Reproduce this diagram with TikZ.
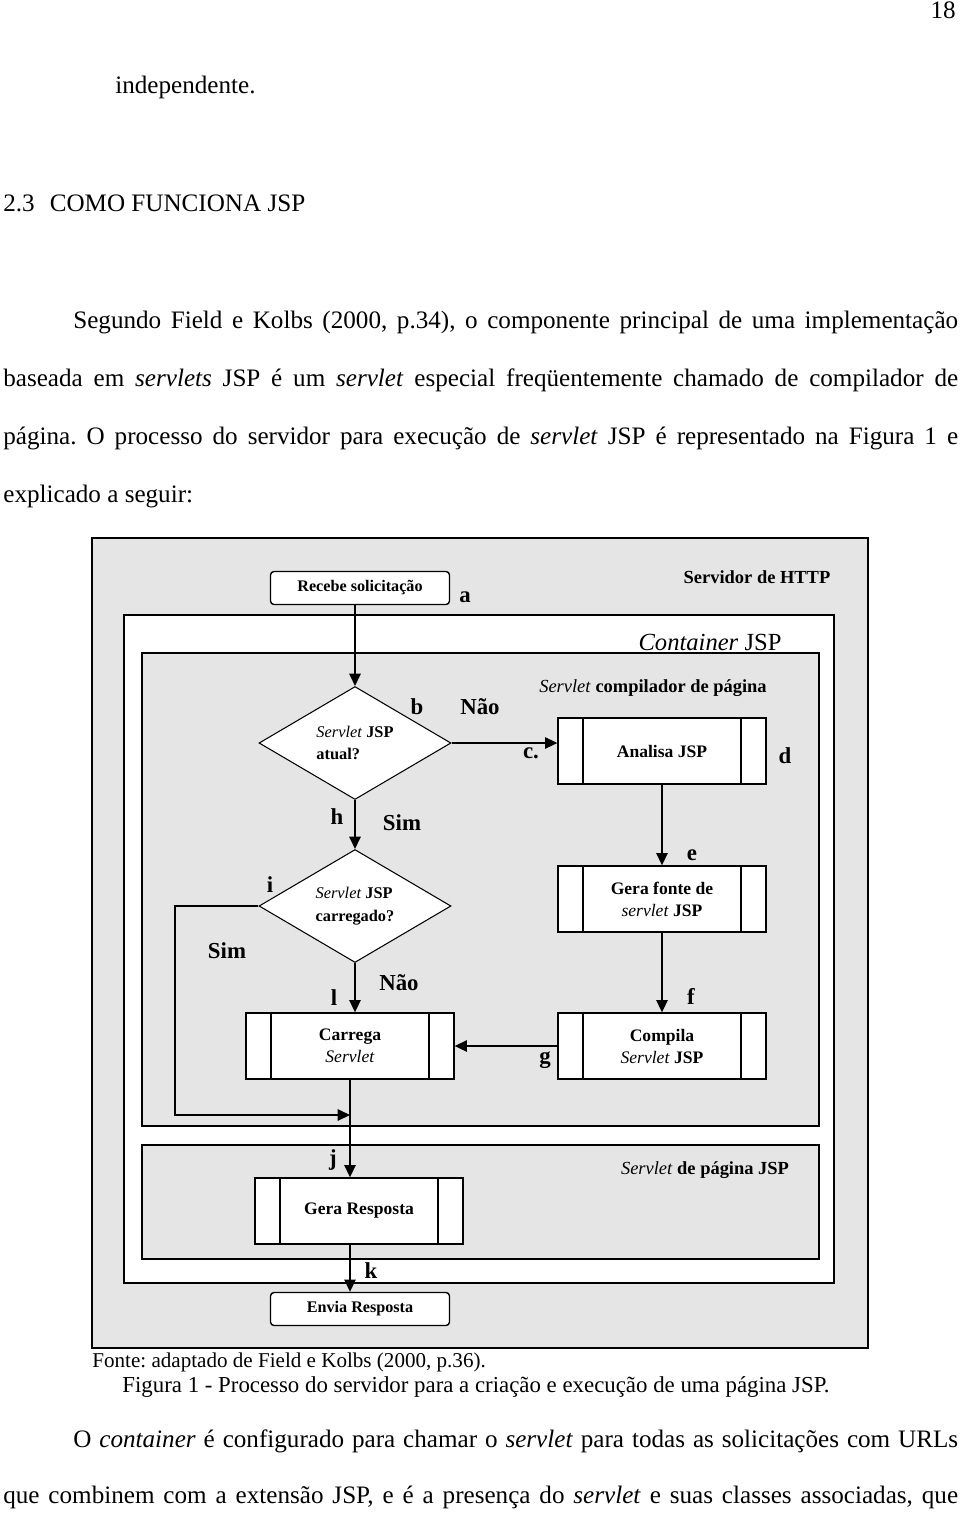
\documentclass[tikz,border=0pt]{standalone}
\usepackage{fontspec}
\setmainfont{Liberation Serif}
\frenchspacing
\usetikzlibrary{arrows.meta,shapes.geometric}
\tikzset{
arr/.style={-{Triangle[width=6.5pt,length=7pt]},line width=0.8pt},
procbox/.style={draw,line width=0.8pt,fill=white,minimum width=4.16cm,minimum height=1.32cm,inner sep=1pt,align=center,font=\fontsize{10}{12.5}\selectfont\bfseries,
 path picture={\draw[line width=0.8pt]([xshift=0.5cm]path picture bounding box.north west)--([xshift=0.5cm]path picture bounding box.south west)
 ([xshift=-0.5cm]path picture bounding box.north east)--([xshift=-0.5cm]path picture bounding box.south east);}},
termbox/.style={draw,line width=0.8pt,fill=white,rounded corners=2pt,minimum width=3.58cm,minimum height=0.66cm,inner sep=1pt,font=\fontsize{9.2}{11}\selectfont\bfseries},
decision/.style={diamond,draw,line width=0.6pt,fill=white,aspect=1.7,inner sep=0pt,minimum width=3.84cm,minimum height=2.26cm,align=left,font=\fontsize{9.3}{13}\selectfont\bfseries},
letter/.style={inner sep=0pt,font=\fontsize{13}{15}\selectfont\bfseries},
frametitle/.style={inner sep=0pt,font=\fontsize{10.5}{12}\selectfont\bfseries},
bodyline/.style={anchor=base west,inner sep=0pt,font=\fontsize{14.3}{17}\selectfont},
}
\begin{document}
\begin{tikzpicture}[x=0.02cm,y=-0.02cm]
\useasboundingbox[fill=white](0,0)rectangle(960,1515);
% page text
\node[bodyline,anchor=base east](pnum)at(956,18){18};
\node[bodyline](t0)at(115,93){independente.};
\node[bodyline](sec)at(3,211){2.3\hspace{0.6em}COMO FUNCIONA JSP};
\node[bodyline](t1)at(73,328){\makebox[17.7cm][s]{Segundo Field e Kolbs (2000, p.34), o componente principal de uma implementação}};
\node[bodyline](t2)at(3,386){\makebox[19.1cm][s]{baseada em \textit{servlets} JSP é um \textit{servlet} especial freqüentemente chamado de compilador de}};
\node[bodyline](t3)at(3,444){\makebox[19.1cm][s]{página. O processo do servidor para execução de \textit{servlet} JSP é representado na Figura 1 e}};
\node[bodyline](t4)at(3,502){explicado a seguir:};
\node[bodyline](t5)at(73,1447){\makebox[17.7cm][s]{O \textit{container} é configurado para chamar o \textit{servlet} para todas as solicitações com URLs}};
\node[bodyline](t6)at(3,1503){\makebox[19.1cm][s]{que combinem com a extensão JSP, e é a presença do \textit{servlet} e suas classes associadas, que}};
% frames
\draw[line width=1.6pt,fill=gray!20](92,538)rectangle(868,1348);
\draw[line width=0.9pt,fill=white](124,615)rectangle(834,1283);
\draw[line width=0.9pt,fill=gray!20](142,653)rectangle(819,1126);
\draw[line width=0.9pt,fill=gray!20](142,1145)rectangle(819,1259);
\node[frametitle](fhttp)at(757,577){Servidor de HTTP};
\node[inner sep=0pt,font=\fontsize{14}{16}\selectfont](fcont)at(710,642){\textit{Container} JSP};
\node[frametitle](fcomp)at(653,688){\textit{\mdseries Servlet} compilador de página};
\node[frametitle](fpag)at(705,1170){\textit{\mdseries Servlet} de página JSP};
% flow
\node[termbox](recebe)at(360,588){Recebe solicitação};
\node[decision](d1)at(355,743){\textit{\mdseries Servlet} JSP\\atual?};
\node[decision](d2)at(355,906){\textit{\mdseries Servlet} JSP\\carregado?};
\node[procbox](analisa)at(662,751){Analisa JSP};
\node[procbox](gerafonte)at(662,899){Gera fonte de\\\textit{\mdseries servlet} JSP};
\node[procbox](compila)at(662,1046){Compila\\\textit{\mdseries Servlet} JSP};
\node[procbox](carrega)at(350,1046){Carrega\\\textit{\mdseries Servlet}};
\node[procbox](resposta)at(359,1211){Gera Resposta};
\node[termbox](envia)at(360,1309){Envia Resposta};
\coordinate(simcorner)at(175,1115);
\draw[arr](d1.north|-recebe.south)--(d1.north);
\draw[arr](d1.east)--(d1.east-|analisa.west);
\draw[arr](analisa.south)--(gerafonte.north);
\draw[arr](gerafonte.south)--(compila.north);
\draw[arr](compila.west)--(carrega.east);
\draw[arr](d1.south)--(d2.north);
\draw[arr](d2.south)--(d2.south|-carrega.north);
\draw[arr](d2.west)--(d2.west-|simcorner)--(simcorner)--(simcorner-|carrega.south);
\draw[arr](carrega.south)--(carrega.south|-resposta.north);
\draw[arr](carrega.south|-resposta.south)--(carrega.south|-envia.north);
% labels
\foreach \lx/\ly/\lt/\ln in {465/597/a/la,417/707/b/lb,480/707/Não/lnao1,531/753/c./lc,785/756/d/ld,337/817/h/lh,402/823/Sim/lsim1,692/855/e/le,270/885/i/li,227/951/Sim/lsim2,691/996/f/lf,334/998/l/ll,399/983/Não/lnao2,545/1060/g/lg,333/1160/j/lj,371/1271/k/lk}
{\node[letter](\ln)at(\lx,\ly){\lt};}
% captions
\node[anchor=base west,inner sep=0pt,font=\fontsize{12}{14}\selectfont](fonte)at(92,1367){Fonte: adaptado de Field e Kolbs (2000, p.36).};
\node[anchor=base,inner sep=0pt,font=\fontsize{13}{15}\selectfont](figura)at(476,1392){Figura 1 - Processo do servidor para a criação e execução de uma página JSP.};
\end{tikzpicture}
\end{document}
